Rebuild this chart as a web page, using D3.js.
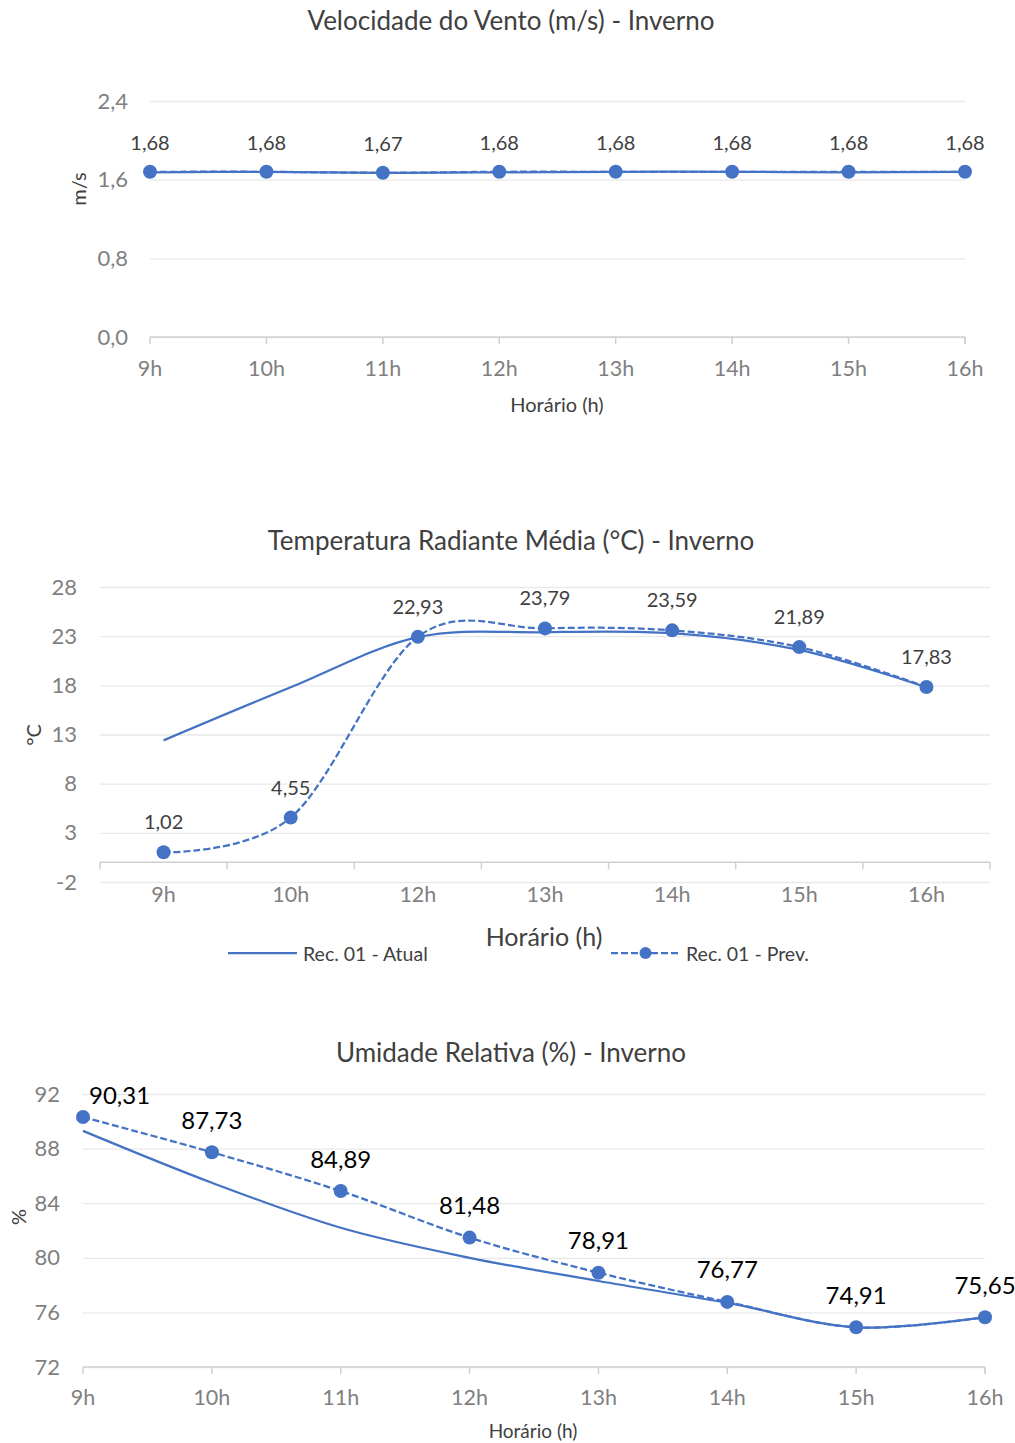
<!DOCTYPE html>
<html>
<head>
<meta charset="utf-8">
<script src="https://cdn.jsdelivr.net/npm/d3@7"></script>
<style>
  html, body { margin: 0; padding: 0; background: #fff; }
  svg { display: block; font-family: Lato, "Open Sans", sans-serif; }
</style>
</head>
<body>
<svg id="chart" width="1015" height="1443"></svg>
<script>
// ---------- DATA ----------
const windHours = ["9h", "10h", "11h", "12h", "13h", "14h", "15h", "16h"];
const windPrev = [1.68, 1.68, 1.67, 1.68, 1.68, 1.68, 1.68, 1.68];
const windAtual = [1.675, 1.68, 1.67, 1.675, 1.68, 1.68, 1.675, 1.68];
const windTicks = [0, 0.8, 1.6, 2.4];

const tempHours = ["9h", "10h", "12h", "13h", "14h", "15h", "16h"];
const tempPrev = [1.02, 4.55, 22.93, 23.79, 23.59, 21.89, 17.83];
const tempAtual = [12.4, 17.8, 22.9, 23.4, 23.3, 21.6, 17.8];
const tempTicks = [-2, 3, 8, 13, 18, 23, 28];

const umidHours = ["9h", "10h", "11h", "12h", "13h", "14h", "15h", "16h"];
const umidPrev = [90.31, 87.73, 84.89, 81.48, 78.91, 76.77, 74.91, 75.65];
const umidAtual = [89.3, 85.5, 82.2, 80.0, 78.3, 76.7, 74.91, 75.65];
const umidTicks = [72, 76, 80, 84, 88, 92];

const seriesNames = ["Rec. 01 - Atual", "Rec. 01 - Prev."];

// ---------- STYLE ----------
const BLUE = "#4472C4";
const GRID = "#e9e9e9";
const AXIS = "#d0d0d0";
const TICKTXT = "#7f7f7f";
const DARK = "#404040";
const fmt = v => d3.format(".1f")(v).replace(".", ",");
const fmt0 = v => String(v);
const fmt2 = v => d3.format(".2f")(v).replace(".", ",");

const svg = d3.select("#chart");

function drawChart(cfg) {
  const g = svg.append("g");
  const x = cfg.x;
  const y = cfg.y;
  const cx = d => x(d) + (x.bandwidth ? x.bandwidth() / 2 : 0);
  const [x0, x1] = x.range();

  // title
  g.append("text").attr("x", cfg.titleX).attr("y", cfg.titleY)
    .attr("text-anchor", "middle").attr("dominant-baseline", "central")
    .attr("font-size", cfg.titleSize).attr("fill", DARK).text(cfg.title);

  // gridlines
  const yAxis = d3.axisLeft(y).tickValues(cfg.ticks).tickFormat(cfg.tickFmt)
    .tickSize(-(x1 - x0)).tickPadding(cfg.yPad);
  const ga = g.append("g").attr("transform", `translate(${x0},0)`).call(yAxis);
  ga.select(".domain").remove();
  ga.selectAll(".tick line").attr("stroke", GRID).attr("stroke-width", 1.3);
  ga.selectAll(".tick text").attr("fill", TICKTXT).attr("font-size", cfg.yTickSize)
    .attr("font-family", "Lato, sans-serif");

  // x axis line at baseline value
  const by = y(cfg.base);
  g.append("line").attr("x1", x0).attr("x2", x1).attr("y1", by).attr("y2", by)
    .attr("stroke", AXIS).attr("stroke-width", 1.5);
  const tickPos = x.bandwidth
    ? x.domain().map(d => x(d)).concat([x1])
    : x.domain().map(d => x(d));
  g.selectAll(".xt").data(tickPos).join("line")
    .attr("x1", d => d).attr("x2", d => d).attr("y1", by).attr("y2", by + 7)
    .attr("stroke", AXIS).attr("stroke-width", 1.5);

  // x tick labels
  g.selectAll(".xl").data(x.domain()).join("text")
    .attr("x", d => cx(d)).attr("y", cfg.xLabelY)
    .attr("text-anchor", "middle").attr("dominant-baseline", "central")
    .attr("font-size", cfg.xTickSize).attr("fill", TICKTXT).text(d => d);

  // axis titles
  g.append("text").attr("x", cfg.xTitleX).attr("y", cfg.xTitleY)
    .attr("text-anchor", "middle").attr("dominant-baseline", "central")
    .attr("font-size", cfg.xTitleSize).attr("fill", DARK).text("Horário (h)");
  g.append("text")
    .attr("transform", `translate(${cfg.yTitleX},${cfg.yTitleY}) rotate(-90)`)
    .attr("text-anchor", "middle").attr("dominant-baseline", "central")
    .attr("font-size", 20).attr("fill", DARK).text(cfg.yTitle);

  // lines
  const cats = x.domain();
  const line = d3.line().x((d, i) => cx(cats[i])).y(d => y(d)).curve(cfg.curve);
  g.append("path").datum(cfg.atual).attr("d", line)
    .attr("fill", "none").attr("stroke", BLUE).attr("stroke-width", 2.25);
  g.append("path").datum(cfg.prev).attr("d", line)
    .attr("fill", "none").attr("stroke", BLUE).attr("stroke-width", 2.25)
    .attr("stroke-dasharray", "7,3");
  g.selectAll(".mk").data(cfg.prev).join("circle")
    .attr("cx", (d, i) => cx(cats[i])).attr("cy", d => y(d)).attr("r", 7)
    .attr("fill", BLUE);

  // data labels
  const top = y(cfg.ticks[cfg.ticks.length - 1]);
  const labels = g.selectAll(".dl").data(cfg.prev).join("text")
    .attr("text-anchor", "middle").attr("dominant-baseline", "central")
    .attr("font-size", cfg.labelSize).attr("fill", cfg.labelColor)
    .text(d => fmt2(d));
  labels.each(function (d, i) {
    const w = this.getComputedTextLength();
    let px = cx(cats[i]);
    if (cfg.clamp) px = Math.max(px, x0 + 6 + w / 2);
    let py = y(d) - cfg.labelOff;
    if (cfg.clamp) py = Math.max(py, top);
    d3.select(this).attr("x", px).attr("y", py);
  });
  return g;
}

// ---------- CHART 1: wind ----------
drawChart({
  title: "Velocidade do Vento (m/s) - Inverno", titleX: 511, titleY: 20, titleSize: 26,
  x: d3.scalePoint().domain(windHours).range([150, 965]),
  y: d3.scaleLinear().domain([0, 2.4]).range([337, 101]),
  ticks: windTicks, tickFmt: fmt, base: 0, yPad: 22, yTickSize: 22, xTickSize: 21.5,
  xLabelY: 368, xTitleX: 557, xTitleY: 404, xTitleSize: 20,
  yTitle: "m/s", yTitleX: 78, yTitleY: 189,
  prev: windPrev, atual: windAtual, curve: d3.curveCardinal.tension(0),
  labelSize: 20, labelColor: DARK, labelOff: 30, clamp: false
});

// ---------- CHART 2: radiant temperature ----------
drawChart({
  title: "Temperatura Radiante Média (°C) - Inverno", titleX: 511, titleY: 540, titleSize: 26,
  x: d3.scaleBand().domain(tempHours).range([100, 990]).padding(0),
  y: d3.scaleLinear().domain([-2, 28]).range([882, 587]),
  ticks: tempTicks, tickFmt: fmt0, base: 0, yPad: 23, yTickSize: 22, xTickSize: 21.5,
  xLabelY: 894, xTitleX: 544, xTitleY: 936, xTitleSize: 25,
  yTitle: "°C", yTitleX: 33, yTitleY: 735,
  prev: tempPrev, atual: tempAtual, curve: d3.curveCardinal.tension(0),
  labelSize: 20, labelColor: DARK, labelOff: 31, clamp: false
});

// legend
const legend = svg.append("g");
const legItems = [
  { name: seriesNames[0], x0: 228, dash: null, marker: false },
  { name: seriesNames[1], x0: 611, dash: "7,3", marker: true }
];
legItems.forEach(it => {
  const ly = 953;
  legend.append("line").attr("x1", it.x0).attr("x2", it.x0 + 69).attr("y1", ly).attr("y2", ly)
    .attr("stroke", BLUE).attr("stroke-width", 2.25)
    .attr("stroke-dasharray", it.dash);
  if (it.marker) legend.append("circle").attr("cx", it.x0 + 34.5).attr("cy", ly).attr("r", 6).attr("fill", BLUE);
  legend.append("text").attr("x", it.x0 + 75).attr("y", ly).attr("dominant-baseline", "central")
    .attr("font-size", 19.5).attr("fill", DARK).text(it.name);
});

// ---------- CHART 3: relative humidity ----------
drawChart({
  title: "Umidade Relativa (%) - Inverno", titleX: 511, titleY: 1052, titleSize: 26,
  x: d3.scalePoint().domain(umidHours).range([83, 985]),
  y: d3.scaleLinear().domain([72, 92]).range([1367, 1094]),
  ticks: umidTicks, tickFmt: fmt0, base: 72, yPad: 23, yTickSize: 22, xTickSize: 21.5,
  xLabelY: 1397, xTitleX: 533, xTitleY: 1430, xTitleSize: 19,
  yTitle: "%", yTitleX: 18, yTitleY: 1217,
  prev: umidPrev, atual: umidAtual, curve: d3.curveCardinal.tension(0),
  labelSize: 24, labelColor: "#000", labelOff: 33, clamp: true
});
</script>
</body>
</html>
